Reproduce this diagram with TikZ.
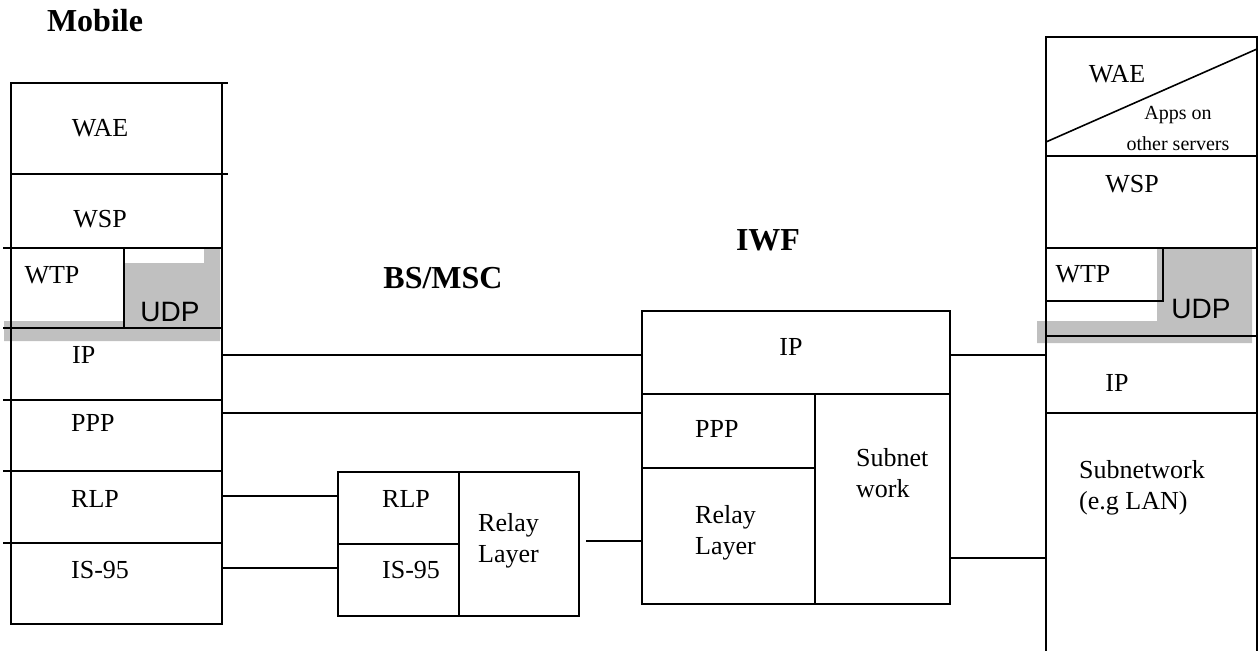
\documentclass[tikz,border=0pt]{standalone}
\usepackage{fontspec}
\setmainfont{Liberation Serif}
\newfontfamily\udpfont{Liberation Sans}
\usepackage{xcolor}
\usepackage{tikz}
\definecolor{udpgray}{RGB}{192,192,192}
\tikzset{
	layer/.style={draw, line width=1.6pt, inner sep=0pt, outer sep=0pt, anchor=north west},
	hollow/.style={inner sep=0pt, outer sep=0pt, anchor=north west},
	lbl/.style={inner sep=0pt, font=\fontsize{26}{31}\selectfont, align=left},
	small/.style={inner sep=0pt, font=\fontsize{20}{31}\selectfont, align=center},
	udp/.style={inner sep=0pt, font=\udpfont\fontsize{28}{33}\selectfont},
	title/.style={inner sep=0pt, font=\fontsize{32}{38}\selectfont\bfseries},
	link/.style={line width=1.6pt}
}
\begin{document}
\begin{tikzpicture}[x=1pt, y=-1pt]
	\useasboundingbox (0,0) rectangle (1259,661);
	\fill[udpgray] (124,263) -- (204,263) -- (204,248) -- (220,248) -- (220,341) -- (4,341) -- (4,321) -- (124,321) -- cycle;
	\fill[udpgray] (1157,248) -- (1252,248) -- (1252,343) -- (1037,343) -- (1037,321) -- (1157,321) -- cycle;

	\node[title, anchor=base] (tMobile) at (95,32) {Mobile};
	\node[title, anchor=base] (tBS) at (443,288) {BS/MSC};
	\node[title, anchor=base] (tIWF) at (768,250) {IWF};

	\node[layer, minimum width=211pt, minimum height=91pt] (mWAE) at (11,83) {};
	\node[layer, minimum width=211pt, minimum height=74pt] (mWSP) at (11,174) {};
	\node[layer, minimum width=113pt, minimum height=80pt] (mWTP) at (11,248) {};
	\node[layer, minimum width=98pt, minimum height=80pt] (mUDP) at (124,248) {};
	\node[layer, minimum width=211pt, minimum height=72pt] (mIP) at (11,328) {};
	\node[layer, minimum width=211pt, minimum height=71pt] (mPPP) at (11,400) {};
	\node[layer, minimum width=211pt, minimum height=72pt] (mRLP) at (11,471) {};
	\node[layer, minimum width=211pt, minimum height=81pt] (mIS) at (11,543) {};
	\foreach \y in {248,328,400,471,543}
		\draw[link] (3,\y) -- (mWAE.west |- 0,\y);
	\draw[link] (mWAE.north east) -- ++(6,0) (mWAE.south east) -- ++(6,0);

	\node[lbl, anchor=base] (lmWAE) at (100,136) {WAE};
	\node[lbl, anchor=base] (lmWSP) at (100,227) {WSP};
	\node[lbl, anchor=base] (lmWTP) at (52,283) {WTP};
	\node[udp, anchor=base] (lmUDP) at (170,321) {UDP};
	\node[lbl, anchor=base west] (lmIP) at (72,363) {IP};
	\node[lbl, anchor=base west] (lmPPP) at (71,431) {PPP};
	\node[lbl, anchor=base west] (lmRLP) at (71,507) {RLP};
	\node[lbl, anchor=base west] (lmIS) at (71,578) {IS-95};

	\node[layer, minimum width=121pt, minimum height=72pt] (bRLP) at (338,472) {};
	\node[layer, minimum width=121pt, minimum height=72pt] (bIS) at (338,544) {};
	\node[layer, minimum width=120pt, minimum height=144pt] (bRelay) at (459,472) {};
	\node[lbl, anchor=base west] (lbRLP) at (382,507) {RLP};
	\node[lbl, anchor=base west] (lbIS) at (382,578) {IS-95};
	\node[lbl, anchor=base west] (lbRelay) at (478,562) {Relay\\Layer};

	\node[layer, minimum width=308pt, minimum height=83pt] (iIP) at (642,311) {};
	\node[layer, minimum width=173pt, minimum height=74pt] (iPPP) at (642,394) {};
	\node[layer, minimum width=173pt, minimum height=136pt] (iRelay) at (642,468) {};
	\node[layer, minimum width=135pt, minimum height=210pt] (iSub) at (815,394) {};
	\node[lbl, anchor=base] (liIP) at (791,355) {IP};
	\node[lbl, anchor=base west] (liPPP) at (695,437) {PPP};
	\node[lbl, anchor=base west] (liRelay) at (695,554) {Relay\\Layer};
	\node[lbl, anchor=base west] (liSub) at (856,497) {Subnet\\work};

	\node[layer, minimum width=211pt, minimum height=119pt] (rWAE) at (1046,37) {};
	\node[layer, minimum width=211pt, minimum height=92pt] (rWSP) at (1046,156) {};
	\node[layer, minimum width=211pt, minimum height=88pt] (rTrans) at (1046,248) {};
	\node[layer, minimum width=117pt, minimum height=53pt] (rWTP) at (1046,248) {};
	\node[layer, minimum width=211pt, minimum height=77pt] (rIP) at (1046,336) {};
	\node[hollow, minimum width=211pt, minimum height=238pt] (rSub) at (1046,413) {};
	\draw[link] (rSub.north west) -- (rSub.south west) (rSub.north east) -- (rSub.south east);
	\draw[link] (rWAE.west |- 0,142) -- (rWAE.east |- 0,49);
	\node[lbl, anchor=base] (lrWAE) at (1117,82) {WAE};
	\node[small, anchor=base] (lrApps) at (1178,150) {Apps on\\other servers};
	\node[lbl, anchor=base] (lrWSP) at (1132,192) {WSP};
	\node[lbl, anchor=base] (lrWTP) at (1083,282) {WTP};
	\node[udp, anchor=base] (lrUDP) at (1201,318) {UDP};
	\node[lbl, anchor=base] (lrIP) at (1117,391) {IP};
	\node[lbl, anchor=base west] (lrSub) at (1079,509) {Subnetwork\\(e.g LAN)};

	\draw[link] (mIP.east |- 0,355) -- (iIP.west |- 0,355);
	\draw[link] (mPPP.east |- 0,413) -- (iPPP.west |- 0,413);
	\draw[link] (mRLP.east |- 0,496) -- (bRLP.west |- 0,496);
	\draw[link] (mIS.east |- 0,568) -- (bIS.west |- 0,568);
	\draw[link] ([xshift=7pt]bRelay.east |- 0,541) -- (iRelay.west |- 0,541);
	\draw[link] (iIP.east |- 0,355) -- (rIP.west |- 0,355);
	\draw[link] (iSub.east |- 0,558) -- (rSub.west |- 0,558);
\end{tikzpicture}
\end{document}
